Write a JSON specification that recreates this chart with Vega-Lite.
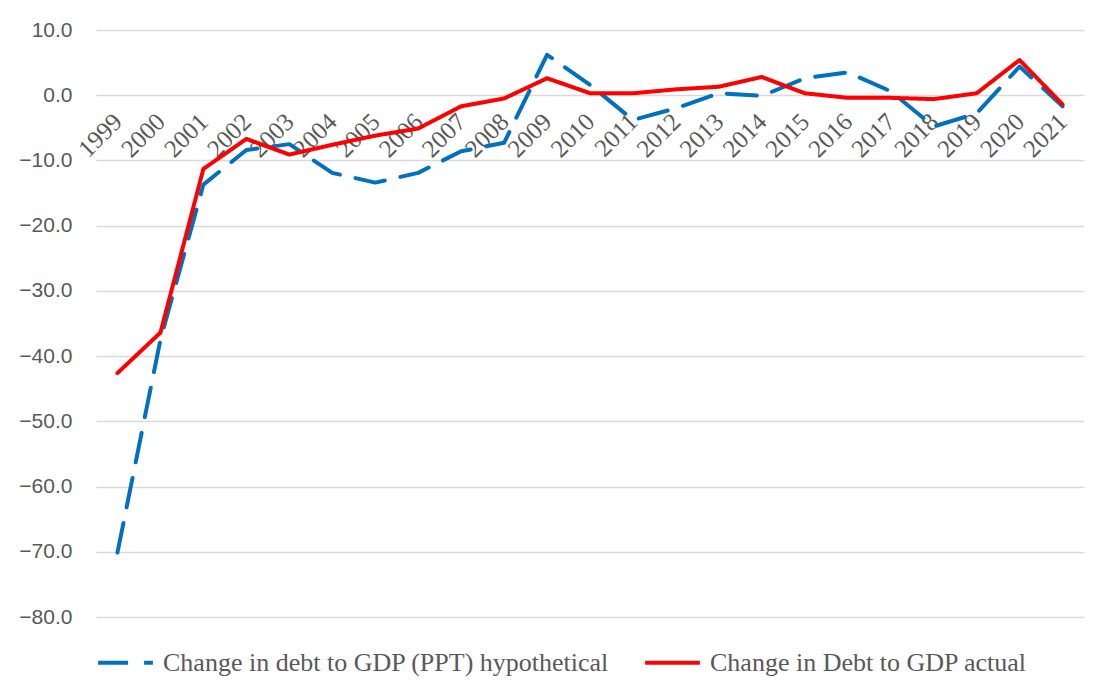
{
  "$schema": "https://vega.github.io/schema/vega-lite/v6.json",
  "width": 988,
  "height": 587,
  "autosize": "none",
  "padding": {"left": 96, "top": 30, "right": 25, "bottom": 79},
  "background": "white",
  "config": {
    "view": {"stroke": null},
    "legend": {"layout": {"bottom": {"anchor": "start"}}}
  },
  "data": {
    "values": [
      {"year": "1999", "series": "Change in debt to GDP (PPT) hypothetical", "value": -70.1},
      {"year": "2000", "series": "Change in debt to GDP (PPT) hypothetical", "value": -37.5},
      {"year": "2001", "series": "Change in debt to GDP (PPT) hypothetical", "value": -13.7},
      {"year": "2002", "series": "Change in debt to GDP (PPT) hypothetical", "value": -8.4},
      {"year": "2003", "series": "Change in debt to GDP (PPT) hypothetical", "value": -7.5},
      {"year": "2004", "series": "Change in debt to GDP (PPT) hypothetical", "value": -11.9},
      {"year": "2005", "series": "Change in debt to GDP (PPT) hypothetical", "value": -13.4},
      {"year": "2006", "series": "Change in debt to GDP (PPT) hypothetical", "value": -11.9},
      {"year": "2007", "series": "Change in debt to GDP (PPT) hypothetical", "value": -8.6},
      {"year": "2008", "series": "Change in debt to GDP (PPT) hypothetical", "value": -7.3},
      {"year": "2009", "series": "Change in debt to GDP (PPT) hypothetical", "value": 6.2},
      {"year": "2010", "series": "Change in debt to GDP (PPT) hypothetical", "value": 1.6},
      {"year": "2011", "series": "Change in debt to GDP (PPT) hypothetical", "value": -3.8},
      {"year": "2012", "series": "Change in debt to GDP (PPT) hypothetical", "value": -2.0},
      {"year": "2013", "series": "Change in debt to GDP (PPT) hypothetical", "value": 0.3},
      {"year": "2014", "series": "Change in debt to GDP (PPT) hypothetical", "value": -0.1},
      {"year": "2015", "series": "Change in debt to GDP (PPT) hypothetical", "value": 2.6},
      {"year": "2016", "series": "Change in debt to GDP (PPT) hypothetical", "value": 3.5},
      {"year": "2017", "series": "Change in debt to GDP (PPT) hypothetical", "value": 0.6},
      {"year": "2018", "series": "Change in debt to GDP (PPT) hypothetical", "value": -4.8},
      {"year": "2019", "series": "Change in debt to GDP (PPT) hypothetical", "value": -2.8},
      {"year": "2020", "series": "Change in debt to GDP (PPT) hypothetical", "value": 4.4},
      {"year": "2021", "series": "Change in debt to GDP (PPT) hypothetical", "value": -1.7},
      {"year": "1999", "series": "Change in Debt to GDP actual", "value": -42.6},
      {"year": "2000", "series": "Change in Debt to GDP actual", "value": -36.4},
      {"year": "2001", "series": "Change in Debt to GDP actual", "value": -11.3},
      {"year": "2002", "series": "Change in Debt to GDP actual", "value": -6.7},
      {"year": "2003", "series": "Change in Debt to GDP actual", "value": -9.1},
      {"year": "2004", "series": "Change in Debt to GDP actual", "value": -7.6},
      {"year": "2005", "series": "Change in Debt to GDP actual", "value": -6.2},
      {"year": "2006", "series": "Change in Debt to GDP actual", "value": -5.1},
      {"year": "2007", "series": "Change in Debt to GDP actual", "value": -1.7},
      {"year": "2008", "series": "Change in Debt to GDP actual", "value": -0.5},
      {"year": "2009", "series": "Change in Debt to GDP actual", "value": 2.6},
      {"year": "2010", "series": "Change in Debt to GDP actual", "value": 0.3},
      {"year": "2011", "series": "Change in Debt to GDP actual", "value": 0.3},
      {"year": "2012", "series": "Change in Debt to GDP actual", "value": 0.9},
      {"year": "2013", "series": "Change in Debt to GDP actual", "value": 1.3},
      {"year": "2014", "series": "Change in Debt to GDP actual", "value": 2.8},
      {"year": "2015", "series": "Change in Debt to GDP actual", "value": 0.3},
      {"year": "2016", "series": "Change in Debt to GDP actual", "value": -0.4},
      {"year": "2017", "series": "Change in Debt to GDP actual", "value": -0.4},
      {"year": "2018", "series": "Change in Debt to GDP actual", "value": -0.6},
      {"year": "2019", "series": "Change in Debt to GDP actual", "value": 0.3},
      {"year": "2020", "series": "Change in Debt to GDP actual", "value": 5.4},
      {"year": "2021", "series": "Change in Debt to GDP actual", "value": -1.4}
    ]
  },
  "mark": {"type": "line", "strokeWidth": 4, "strokeCap": "round", "strokeJoin": "round"},
  "encoding": {
    "x": {
      "field": "year",
      "type": "ordinal",
      "scale": {"type": "point", "padding": 0.5},
      "axis": {
        "title": null,
        "orient": "bottom",
        "offset": -521.8,
        "domain": false,
        "ticks": false,
        "tickSize": 0,
        "grid": false,
        "labelAngle": -45,
        "labelAlign": "right",
        "labelBaseline": "middle",
        "labelPadding": 22,
        "labelFont": "Liberation Serif",
        "labelFontSize": 25,
        "labelColor": "#595959"
      }
    },
    "y": {
      "field": "value",
      "type": "quantitative",
      "scale": {"domain": [-80, 10], "nice": false, "zero": false},
      "axis": {
        "title": null,
        "values": [-80, -70, -60, -50, -40, -30, -20, -10, 0, 10],
        "format": ".1f",
        "domain": false,
        "ticks": false,
        "tickSize": 0,
        "grid": true,
        "gridColor": "#d9d9d9",
        "gridWidth": 1.5,
        "labelPadding": 24,
        "labelFont": "Liberation Sans",
        "labelFontSize": 21,
        "labelColor": "#595959"
      }
    },
    "color": {
      "field": "series",
      "type": "nominal",
      "sort": ["Change in debt to GDP (PPT) hypothetical", "Change in Debt to GDP actual"],
      "scale": {
        "domain": ["Change in debt to GDP (PPT) hypothetical", "Change in Debt to GDP actual"],
        "range": ["#0070C0", "#FF0000"]
      },
      "legend": {
        "title": null,
        "orient": "bottom",
        "direction": "horizontal",
        "offset": 16,
        "symbolType": "stroke",
        "symbolSize": 3000,
        "symbolStrokeWidth": 4,
        "labelFont": "Liberation Serif",
        "labelFontSize": 26,
        "labelColor": "#595959",
        "labelLimit": 700,
        "labelOffset": 8,
        "columnPadding": 27
      }
    },
    "strokeDash": {
      "field": "series",
      "type": "nominal",
      "scale": {
        "domain": ["Change in debt to GDP (PPT) hypothetical", "Change in Debt to GDP actual"],
        "range": [[30, 16], [1, 0]]
      },
      "legend": {
        "title": null,
        "orient": "bottom",
        "direction": "horizontal",
        "offset": 16,
        "symbolType": "stroke",
        "symbolSize": 3000,
        "symbolStrokeWidth": 4,
        "labelFont": "Liberation Serif",
        "labelFontSize": 26,
        "labelColor": "#595959",
        "labelLimit": 700,
        "labelOffset": 8,
        "columnPadding": 27
      }
    }
  }
}
